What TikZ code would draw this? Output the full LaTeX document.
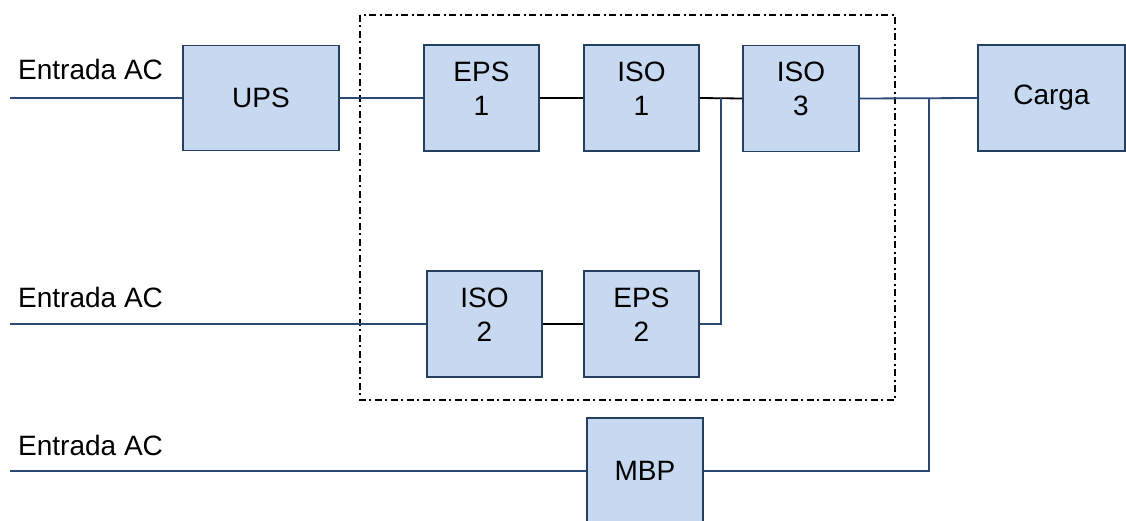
\documentclass[tikz,border=0pt]{standalone}
\usepackage{fontspec}
\setmainfont{Liberation Sans}
\definecolor{boxfill}{HTML}{C6D9F1}
\definecolor{boxline}{HTML}{243F60}
\definecolor{wire}{HTML}{2A4A75}
\begin{document}
\begin{tikzpicture}[x=1pt,y=-1pt,
  blk/.style={draw=boxline,fill=boxfill,line width=1.8pt,minimum width=#1,minimum height=106pt,inner sep=0pt,font=\fontsize{28}{33.5}\selectfont},
  blk/.default=115pt,
  blktext/.style={font=\fontsize{28}{33.5}\selectfont,align=center,inner sep=0pt},
  lbl/.style={font=\fontsize{28}{33.5}\selectfont,anchor=base west,inner sep=0pt},
  bw/.style={draw=wire,line width=1.8pt},
  kw/.style={draw=black,line width=1.8pt}]
\clip (0,0) rectangle (1126,521);
\fill[white] (0,0) rectangle (1126,521);
% dash-dot frame
\draw[black,line width=1.5pt,dash pattern=on 7pt off 3pt on 2pt off 4pt] (360,15) rectangle (895,400);
% blocks
\node[blk=156pt,minimum height=105pt] (ups) at (261,98) {UPS};
\node[blk] (eps1) at (481.5,98) {};
\node[blk] (iso1) at (641.5,98) {};
\node[blk=116pt] (iso3) at (801,98.5) {};
\node[blk=147pt] (carga) at (1051.5,98) {Carga};
\node[blk] (iso2) at (484.5,324) {};
\node[blk] (eps2) at (641.5,324) {};
\node[blk=116pt] (mbp) at (645,471) {MBP};
\node[blktext] (t1) at ([yshift=9.5pt]eps1.center) {EPS\\1};
\node[blktext] (t2) at ([yshift=9.5pt]iso1.center) {ISO\\1};
\node[blktext] (t3) at ([yshift=9.5pt]iso3.center) {ISO\\3};
\node[blktext] (t4) at ([yshift=9.5pt]iso2.center) {ISO\\2};
\node[blktext] (t5) at ([yshift=9.5pt]eps2.center) {EPS\\2};
% labels
\node[lbl] (l1) at (18,80) {Entrada AC};
\node[lbl] (l2) at (18,307) {Entrada AC};
\node[lbl] (l3) at (18,455) {Entrada AC};
% free ends and junctions
\coordinate (in1) at (10,98);
\coordinate (in2) at (10,324);
\coordinate (in3) at (10,471);
\coordinate (j1) at (721,98);
\coordinate (j2) at (929,98);
% connectors
\draw[bw] (in1) -- (ups.west);
\draw[bw] (ups.east) -- (eps1.west);
\draw[kw] (eps1.east) -- (iso1.west);
\draw[kw] (iso1.east) -- (iso3.west);
\draw[bw] (iso3.east) -- (carga.west);
\draw[bw] (in2) -- (iso2.west);
\draw[kw] (iso2.east) -- (eps2.west);
\draw[bw] (eps2.east) -| (j1);
\draw[bw] (in3) -- (mbp.west);
\draw[bw] (mbp.east) -| (j2);
\end{tikzpicture}
\end{document}
